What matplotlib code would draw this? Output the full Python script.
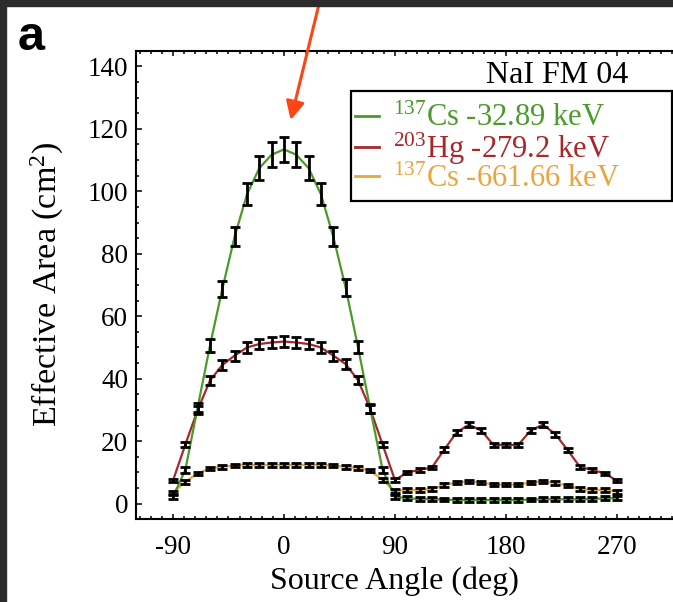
import matplotlib
matplotlib.use("Agg")
import matplotlib.pyplot as plt
from matplotlib.patches import Rectangle
from matplotlib.ticker import MultipleLocator

plt.rcParams['font.family'] = ['Liberation Serif', 'DejaVu Serif']
plt.rcParams['mathtext.fontset'] = 'custom'
plt.rcParams['mathtext.rm'] = 'Liberation Serif'
plt.rcParams['mathtext.it'] = 'Liberation Serif:italic'
plt.rcParams['mathtext.bf'] = 'Liberation Serif:bold'
plt.rcParams['axes.unicode_minus'] = False

# Source angle (deg), one point every 10 deg
angles = list(range(-90, 271, 10))

# 137Cs 32.89 keV
cs_low = [2.2, 10.8, 30.8, 50.6, 68.7, 85.5, 99.0, 107.4, 111.7, 113.4,
          111.7, 107.4, 99.0, 85.5, 69.2, 50.2, 30.4, 10.8, 2.2,
          1.7, 1.5, 1.5, 1.3, 1.2, 1.2, 1.2, 1.2, 1.2, 1.2, 1.3, 1.4,
          1.4, 1.4, 1.4, 1.5, 1.7, 1.8]
cs_low_err = [0.6, 1.0, 1.5, 2.0, 2.6, 3.0, 3.5, 3.8, 4.0, 4.0,
              4.0, 3.8, 3.5, 3.0, 2.6, 2.0, 1.5, 1.0, 0.6,
              0.6, 0.6, 0.6, 0.6, 0.6, 0.6, 0.6, 0.6, 0.6, 0.6, 0.6, 0.6,
              0.6, 0.6, 0.6, 0.6, 0.6, 0.6]

# 203Hg 279.2 keV
hg = [7.4, 18.9, 30.0, 39.4, 44.4, 47.4, 50.0, 51.1, 51.6, 51.9,
      51.6, 51.1, 50.0, 47.4, 44.7, 39.6, 30.3, 18.9, 7.6,
      10.0, 10.8, 11.6, 17.3, 22.8, 25.3, 23.4, 18.8, 18.8, 18.8, 23.4,
      25.3, 22.3, 17.2, 11.8, 10.8, 9.7, 7.4]
hg_err = [0.6, 0.9, 1.2, 1.4, 1.5, 1.6, 1.7, 1.7, 1.7, 1.7,
          1.7, 1.7, 1.7, 1.6, 1.5, 1.4, 1.2, 0.9, 0.6,
          0.6, 0.6, 0.6, 0.7, 0.8, 0.8, 0.8, 0.7, 0.7, 0.7, 0.8,
          0.8, 0.8, 0.7, 0.6, 0.6, 0.6, 0.6]

# 137Cs 661.66 keV
cs_high = [3.6, 7.0, 9.7, 11.3, 11.8, 12.2, 12.4, 12.4, 12.4, 12.4,
           12.4, 12.4, 12.4, 12.2, 11.8, 11.4, 10.6, 7.6, 4.0,
           4.4, 4.4, 4.7, 6.0, 6.8, 7.1, 6.8, 6.1, 6.1, 6.1, 6.8,
           7.1, 6.6, 5.8, 4.7, 4.4, 4.4, 3.8]
cs_high_err = [0.6] * len(angles)

series = [
    (cs_low, cs_low_err, '#4b9a2b', '$^{137}$Cs -32.89 keV'),
    (hg, hg_err, '#a8282a', '$^{203}$Hg -279.2 keV'),
    (cs_high, cs_high_err, '#e9a63e', '$^{137}$Cs -661.66 keV'),
]

W, H = 673, 602
fig = plt.figure(figsize=(W / 100, H / 100), dpi=100, facecolor='white')

# axes box in pixels: left 136, right ~678 (past the edge), top 51, bottom 519
ax = fig.add_axes([136 / W, (H - 519.3) / H, 542.5 / W, 468.6 / H])

zorders = {0: 3, 1: 2.5, 2: 2}
handles = []
for i, (vals, errs, col, lab) in enumerate(series):
    ln, = ax.plot(angles, vals, color=col, lw=1.6, zorder=zorders[i], label=lab)
    handles.append(ln)
    ax.errorbar(angles, vals, yerr=errs, fmt='none', ecolor='black',
                elinewidth=2.0, capsize=3.5, capthick=2.0, zorder=4)

ax.set_xlim(-120, 320)
ax.set_ylim(-5, 145)
ax.xaxis.set_major_locator(MultipleLocator(90))
ax.xaxis.set_minor_locator(MultipleLocator(9))
ax.yaxis.set_major_locator(MultipleLocator(20))
ax.yaxis.set_minor_locator(MultipleLocator(5))
ax.tick_params(which='both', direction='in', top=True, right=True, width=1.1,
               labelsize=19.5, colors='black')
ax.tick_params(axis='x', which='major', length=3.5, pad=11)
ax.tick_params(axis='x', which='minor', length=2)
ax.tick_params(axis='y', which='major', length=4, pad=5.5)
ax.tick_params(axis='y', which='minor', length=2.2)
for sp in ax.spines.values():
    sp.set_linewidth(1.5)

fig.text(394 / W, 1 - 581 / H, 'Source Angle (deg)', fontsize=23,
         ha='center', va='center')
fig.text(47 / W, 1 - 284 / H, 'Effective Area (cm$^2$)', fontsize=24.5,
         ha='center', va='center', rotation=90)

ax.text((628 - 136) / 542.5, (519.3 - 82.7) / 468.6, 'NaI FM 04',
        transform=ax.transAxes, fontsize=23, ha='right', va='baseline')

# legend frame drawn by hand, Mathematica style
fig.patches.append(Rectangle((351 / W, 1 - 201 / H), 321 / W, 110 / H,
                             transform=fig.transFigure, fill=False,
                             edgecolor='black', lw=1.6, zorder=5))
leg = ax.legend(handles=handles, loc='upper left',
                bbox_to_anchor=((352 - 136) / 542.5, (519.3 - 101) / 468.6),
                frameon=False, fontsize=22, handlelength=0.78,
                handletextpad=0.45, labelspacing=-0.08, borderpad=0.1,
                borderaxespad=0)
for txt, (_, _, col, _) in zip(leg.get_texts(), series):
    txt.set_color(col)
for ln in leg.get_lines():
    ln.set_linewidth(2)

# dark frame of the screenshot
fig.patches.append(Rectangle((0, 1 - 6 / H), 1, 6 / H, transform=fig.transFigure,
                             color='#2b2b2b', zorder=0))
fig.patches.append(Rectangle((0, 0), 6 / W, 1, transform=fig.transFigure,
                             color='#2b2b2b', zorder=0))

fig.text(18 / W, 1 - 50 / H, 'a', fontsize=35, fontweight='bold',
         family='Liberation Sans', ha='left', va='baseline')

# arrow pointing at the peak
ax.annotate('', xy=(290.7 / W, 1 - 120 / H), xycoords='figure fraction',
            xytext=(321 / W, 1 + 4 / H), textcoords='figure fraction',
            arrowprops=dict(arrowstyle='-|>', color='#ff4516', lw=2.2,
                            mutation_scale=28, shrinkA=0, shrinkB=0),
            annotation_clip=False, zorder=10)

plt.savefig('out.png', dpi=100, facecolor='white')
plt.close()
